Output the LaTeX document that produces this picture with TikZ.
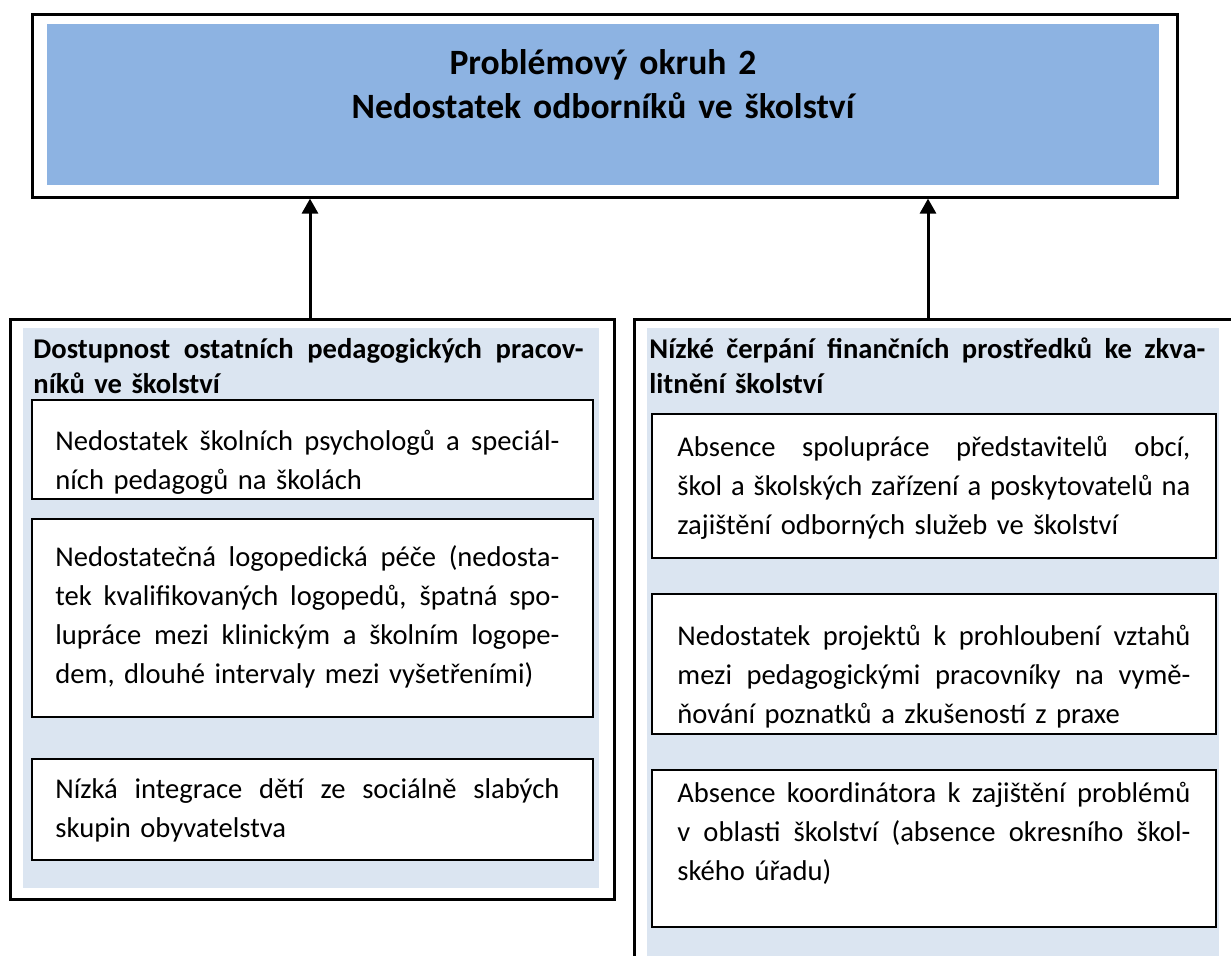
\documentclass[tikz,border=0pt]{standalone}
\usepackage{fontspec}
\setmainfont{Carlito}
\usetikzlibrary{arrows.meta,positioning,calc}
\definecolor{modra}{HTML}{8DB3E2}
\definecolor{svetlemodra}{HTML}{DBE5F1}
\newcommand{\radek}[2][252pt]{\leavevmode\hbox to #1{\spaceskip=.226em plus 1fil\relax #2}}
\tikzset{
 ram/.style={draw, line width=1.3pt, inner sep=0pt, anchor=north west},
 box/.style={draw, line width=0.9pt, fill=white, inner sep=0pt, anchor=north west},
 txt/.style={inner sep=0pt, anchor=base west, align=left, font=\fontsize{14.3}{19.5}\selectfont},
 nadpis/.style={txt, font=\bfseries\fontsize{14.3}{17.5}\selectfont},
 sipka/.style={-{Triangle[width=8pt,length=7.5pt]}, line width=1.5pt},
}

\begin{document}
\begin{tikzpicture}[x=0.5pt,y=-0.5pt]
\useasboundingbox (0,0) rectangle (1231,955);
\node[ram, minimum width=572.5pt, minimum height=91.5pt] (okruh) at (31,13) {};
\fill[modra] (47,24) rectangle (1159,185);
\node[inner sep=0pt, anchor=base, text width=500pt, align=center, font=\bfseries\fontsize{17.8}{22}\selectfont] (okruht) at (603,74) {Problémový okruh 2\\Nedostatek odborníků ve školství};

\node[ram, minimum width=302pt, minimum height=290pt] (levy) at (9,318) {};
\fill[svetlemodra] (23,328) rectangle (599,888);
\node[nadpis, text width=275pt] (levyn) at (33,358) {\radek[275pt]{Dostupnost ostatních pedagogických pracov-}\\níků ve školství};
\node[box, minimum width=280.5pt, minimum height=49.5pt] (l1) at (31,399) {};
\node[txt, text width=252pt] (l1t) at (55,450) {\radek{Nedostatek školních psychologů a speciál-}\\ních pedagogů na školách};
\node[box, minimum width=280.5pt, minimum height=99pt] (l2) at (31,518) {};
\node[txt, text width=252pt] (l2t) at (55,566) {\radek{Nedostatečná logopedická péče (nedosta-}\\\radek{tek kvalifikovaných logopedů, špatná spo-}\\\radek{lupráce mezi klinickým a školním logope-}\\dem, dlouhé intervaly mezi vyšetřeními)};
\node[box, minimum width=280.5pt, minimum height=50.5pt] (l3) at (31,758) {};
\node[txt, text width=252pt] (l3t) at (55,798) {\radek{Nízká integrace dětí ze sociálně slabých}\\skupin obyvatelstva};

\node[ram, minimum width=306pt, minimum height=330pt] (pravy) at (633,318) {};
\fill[svetlemodra] (647,328) rectangle (1219,960);
\node[nadpis, text width=278pt] (pravyn) at (649,358) {\radek[278pt]{Nízké čerpání finančních prostředků ke zkva-}\\litnění školství};
\node[box, minimum width=282pt, minimum height=72pt] (p1) at (651,413) {};
\node[txt, text width=256.5pt] (p1t) at (677,456) {\radek[256.5pt]{Absence spolupráce představitelů obcí,}\\\radek[256.5pt]{škol a školských zařízení a poskytovatelů na}\\zajištění odborných služeb ve školství};
\node[box, minimum width=282pt, minimum height=70pt] (p2) at (651,593) {};
\node[txt, text width=256.5pt] (p2t) at (677,645) {\radek[256.5pt]{Nedostatek projektů k prohloubení vztahů}\\\radek[256.5pt]{mezi pedagogickými pracovníky na vymě-}\\ňování poznatků a zkušeností z praxe};
\node[box, minimum width=282pt, minimum height=78.5pt] (p3) at (651,769) {};
\node[txt, text width=256.5pt] (p3t) at (677,802) {\radek[256.5pt]{Absence koordinátora k zajištění problémů}\\\radek[256.5pt]{v oblasti školství (absence okresního škol-}\\ského úřadu)};

\coordinate (ls) at (310,0);
\coordinate (ps) at (928,0);
\draw[sipka] (levy.north -| ls) -- (okruh.south -| ls);
\draw[sipka] (pravy.north -| ps) -- (okruh.south -| ps);
\end{tikzpicture}
\end{document}
